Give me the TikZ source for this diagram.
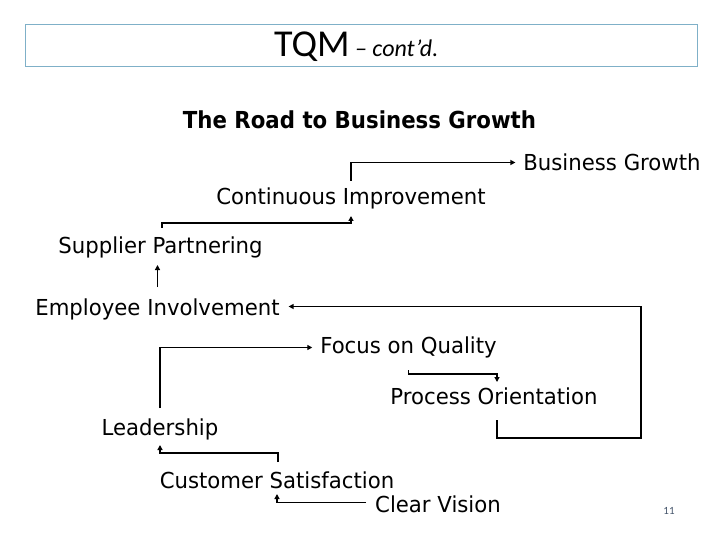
\documentclass[tikz,border=0pt]{standalone}
\usepackage{fontspec}
\newfontfamily\roadfont{DejaVu Sans}[FakeStretch=0.965]
\newfontfamily\headfont{DejaVu Sans}[FakeStretch=0.91]
\newfontfamily\titlefont{Carlito}
\usetikzlibrary{arrows.meta,positioning}
\definecolor{boxblue}{RGB}{127,176,200}
\definecolor{pagenum}{RGB}{68,84,106}
\tikzset{
  stage/.style={anchor=base, inner sep=0pt, outer sep=0pt, text height=16pt, text depth=5pt,
    font=\roadfont\fontsize{22}{26}\selectfont},
  link/.style={line width=1.7pt, -{Triangle[length=5pt,width=5pt]}},
}

\begin{document}
\begin{tikzpicture}[x=1pt,y=-1pt]
    \useasboundingbox (0,0) rectangle (720,540);
    % Title bar
    \draw[boxblue, line width=0.8pt] (25,24) rectangle (697,66);
    \node[anchor=base west, inner sep=0pt, font=\titlefont\fontsize{38}{40}\selectfont] (tqm) at (274,57) {TQM};
    \node[right=5pt of tqm.base east, anchor=base west, inner sep=0pt,
      font=\titlefont\itshape\fontsize{24}{26}\selectfont] (contd) {– cont’d.};
    \node[anchor=base, inner sep=0pt, font=\headfont\bfseries\fontsize{23.4}{26}\selectfont] (road) at (359.5,129) {The Road to Business Growth};

    % Stages
    \node[stage] (bg) at (612,171) {Business Growth};
    \node[stage] (ci) at (351,205) {Continuous Improvement};
    \node[stage] (sp) at (160.5,253) {Supplier Partnering};
    \node[stage] (ei) at (157.5,315) {Employee Involvement};
    \node[stage] (fq) at (408.5,353) {Focus on Quality};
    \node[stage] (po) at (494,404) {Process Orientation};
    \node[stage] (ld) at (160,435) {Leadership};
    \node[stage] (cs) at (277,488) {Customer Satisfaction};
    \node[stage] (cv) at (438,512) {Clear Vision};
    \coordinate (loop) at (641,438);

    % Upper steps
    \draw[link] ([yshift=8pt]ci.north) |- ([xshift=-8pt,yshift=3pt]bg.west);
    \draw[link] ([xshift=1.5pt,yshift=9pt]sp.north) -- ++(0,-5) -| ([yshift=-6pt]ci.south);
    \draw[link] ([yshift=12pt]ei.north) -- ([xshift=-3pt,yshift=-7pt]sp.south);
    \draw[link] ([xshift=3pt,yshift=-11pt]po.south) |- (loop) |- ([xshift=9pt,yshift=3pt]ei.east);

    % Lower steps
    \draw[link] ([yshift=11pt]ld.north) |- ([xshift=-8pt]fq.west);
    \draw[link] ([yshift=-12pt]fq.south) -- ++(0,4) -| ([xshift=3pt,yshift=6pt]po.north);
    \draw[link] ([xshift=1pt,yshift=10pt]cs.north) -- ++(0,-9) -| ([yshift=-5pt]ld.south);
    \draw[link] ([xshift=-9pt,yshift=4pt]cv.west) -| ([yshift=-1pt]cs.south);

    \node[inner sep=0pt, text=pagenum, font=\titlefont\fontsize{11}{12}\selectfont] (pg) at (669,511) {11};
\end{tikzpicture}
\end{document}
